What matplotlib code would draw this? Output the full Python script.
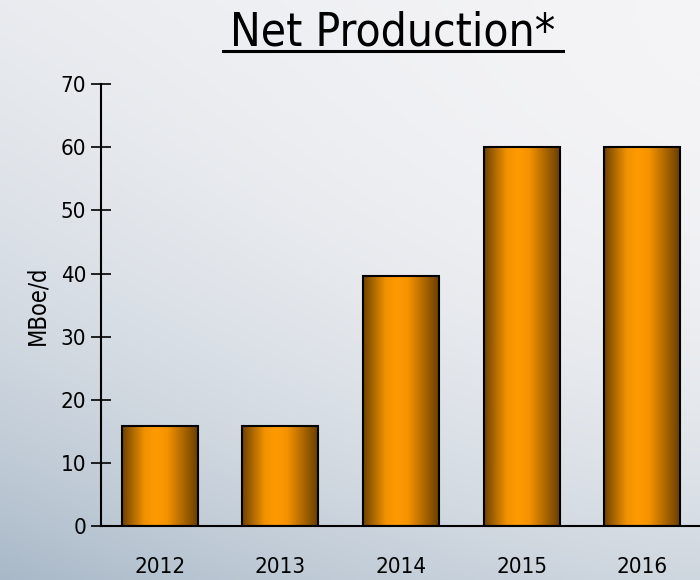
import matplotlib.pyplot as plt
import numpy as np
from matplotlib.colors import LinearSegmentedColormap

# data
years = ['2012', '2013', '2014', '2015', '2016']
production = [15.8, 15.8, 39.6, 60, 60]
yticks = [0, 10, 20, 30, 40, 50, 60, 70]

plt.rcParams['font.family'] = ['DejaVu Sans']
plt.rcParams['font.stretch'] = 'condensed'

fig = plt.figure(figsize=(7, 5.8), dpi=100)

# background: light gray-white, bluish towards left and bottom
bg = fig.add_axes([0, 0, 1, 1], zorder=-10)
gx, gy = np.meshgrid(np.linspace(0, 1, 300), np.linspace(0, 1, 300))
d = 0.45 * (1 - gx) ** 1.5 * (0.3 + 0.7 * (1 - gy)) + 0.45 * (1 - gy) ** 2.5
d = np.clip(d, 0, 1)
bg_cmap = LinearSegmentedColormap.from_list('bg', ['#f4f4f6', '#a0b2c3'])
bg.imshow(d, cmap=bg_cmap, origin='lower', aspect='auto', extent=[0, 1, 0, 1], vmin=0, vmax=1)
bg.axis('off')

ax = fig.add_axes([0.144, 0.093, 0.856, 0.762])
ax.patch.set_alpha(0)

x = np.arange(len(years))
bars = ax.bar(x, production, width=0.63, facecolor='none', edgecolor='black', linewidth=1.5, zorder=3)

# horizontal shading inside each bar
bar_cmap = LinearSegmentedColormap.from_list(
    'bar', [(0, '#6e4200'), (0.3, '#f39200'), (0.45, '#ff9a00'), (0.6, '#f39200'), (1, '#6a3f00')])
grad = np.linspace(0, 1, 256).reshape(1, -1)
for b in bars:
    im = ax.imshow(grad, cmap=bar_cmap, aspect='auto', zorder=2,
                   extent=[b.get_x(), b.get_x() + b.get_width(), 0, b.get_height()])
    im.set_clip_path(b)

ax.set_xlim(-0.49, 4.48)
ax.set_ylim(0, 70)
ax.set_yticks(yticks)
ax.set_xticks(x)
ax.set_xticklabels(years)
ax.tick_params(axis='y', direction='inout', length=15, width=1.2, labelsize=16, pad=3)
ax.tick_params(axis='x', length=0, labelsize=16, pad=22)
for s in ['top', 'right']:
    ax.spines[s].set_visible(False)
for s in ['left', 'bottom']:
    ax.spines[s].set_linewidth(1.5)
ax.set_ylabel('MBoe/d', fontsize=17, labelpad=8)

fig.text(0.561, 0.922, 'Net Production*', fontsize=33, ha='center', va='baseline')
fig.add_artist(plt.Line2D([0.319, 0.804], [0.912, 0.912], color='black', linewidth=2.2))

plt.savefig('out.png', dpi=100)
